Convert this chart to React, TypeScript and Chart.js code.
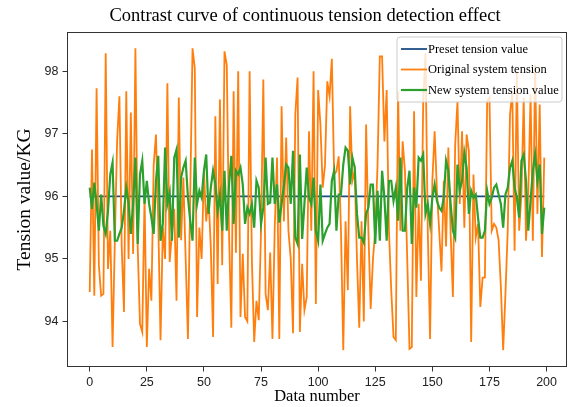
import React, { useEffect, useRef } from 'react';
import { Chart, registerables } from 'chart.js';

Chart.register(...registerables);

// ---------- data ----------
const dataNumbers: number[] = Array.from({ length: 200 }, (_, i) => i);

const presetTensionValue = 96;

const originalSystemTension: number[] = [
  94.47, 96.75, 94.41, 97.73, 94.9, 94.41, 94.44, 98.29, 94.84, 95.45,
  93.59, 95.3, 96.9, 97.6, 95.2, 94.15, 97.68, 95.0, 97.34, 95.08,
  98.37, 95.2, 93.96, 93.83, 96.0, 93.59, 94.84, 94.33, 96.5, 96.99,
  95.6, 93.7, 95.5, 95.0, 97.81, 94.95, 95.4, 95.8, 94.33, 97.58,
  95.3, 96.3, 95.0, 93.72, 96.0, 98.37, 98.05, 94.07, 95.5, 95.0,
  96.4, 95.6, 96.0, 95.2, 93.75, 97.28, 94.6, 97.55, 94.9, 98.32,
  98.1, 95.4, 93.9, 97.68, 95.1, 98.0, 94.07, 95.08, 94.07, 94.0,
  98.0, 94.97, 93.67, 94.33, 94.02, 95.45, 97.87, 94.44, 94.18, 95.1,
  93.72, 95.5, 96.62, 93.72, 97.44, 95.6, 96.94, 95.45, 95.0, 93.81,
  97.31, 97.9, 93.83, 94.92, 94.18, 94.39, 97.04, 95.45, 98.0, 94.28,
  97.7, 97.15, 96.14, 96.5, 97.84, 97.6, 98.2, 96.35, 96.4, 96.64,
  95.45, 93.54, 95.6, 94.5, 97.44, 96.25, 96.4, 95.0, 93.9, 95.6,
  94.0, 97.15, 95.45, 94.2, 95.0, 95.45, 96.5, 98.24, 98.24, 96.88,
  97.7, 95.45, 94.5, 93.75, 93.7, 97.68, 95.45, 96.88, 96.41, 95.0,
  93.56, 93.59, 97.36, 94.39, 95.88, 94.65, 97.52, 98.29, 95.45, 93.72,
  96.25, 97.04, 96.09, 95.45, 94.8, 96.25, 95.2, 96.78, 95.42, 94.39,
  96.83, 97.52, 95.88, 97.04, 95.5, 96.99, 96.73, 93.67, 96.35, 95.34,
  95.56, 94.23, 94.7, 94.7, 97.52, 97.58, 95.45, 95.56, 95.5, 95.3,
  94.55, 93.54, 94.44, 95.45, 97.31, 97.68, 95.13, 98.0, 95.45, 96.03,
  97.58, 95.29, 96.03, 97.63, 95.29, 98.1, 95.72, 97.47, 95.03, 96.62,
];

const newSystemTension: number[] = [
  96.14, 95.8, 96.22, 95.88, 95.45, 96.03, 95.53, 95.4, 95.77, 96.35,
  96.54, 95.29, 95.29, 95.4, 95.5, 95.77, 96.14, 95.9, 95.4, 95.88,
  96.62, 95.24, 96.35, 96.57, 95.88, 96.25, 95.88, 95.66, 95.4, 96.25,
  96.65, 95.29, 95.56, 96.78, 95.88, 96.06, 95.29, 96.62, 96.75, 95.34,
  96.3, 96.46, 96.57, 95.98, 95.61, 95.29, 96.62, 95.88, 96.09, 95.98,
  96.41, 96.67, 95.72, 96.14, 96.41, 96.19, 95.77, 96.03, 95.45, 96.41,
  95.45, 96.19, 96.65, 95.56, 96.41, 96.35, 96.46, 96.19, 95.56, 95.82,
  95.72, 95.88, 95.5, 96.25, 96.14, 95.56, 95.82, 96.62, 95.88, 95.9,
  96.62, 95.88, 96.19, 95.58, 95.88, 96.17, 96.51, 96.46, 95.88, 96.73,
  95.34, 95.24, 96.67, 95.32, 95.88, 96.46, 95.98, 95.88, 96.3, 95.45,
  95.29, 96.19, 95.29, 95.4, 95.5, 95.56, 96.25, 96.41, 95.45, 96.03,
  96.03, 96.51, 96.78, 96.73, 96.19, 96.62, 96.46, 95.72, 95.34, 95.34,
  95.26, 95.72, 95.82, 96.19, 96.19, 95.24, 96.09, 95.29, 96.41, 95.98,
  95.29, 96.25, 96.25, 95.93, 96.14, 95.61, 96.62, 95.45, 95.45, 96.14,
  96.41, 95.24, 96.14, 95.82, 96.62, 96.57, 96.67, 95.72, 95.88, 95.56,
  95.98, 96.19, 95.93, 95.82, 95.77, 95.98, 96.57, 96.41, 95.88, 95.45,
  95.34, 96.51, 96.09, 96.25, 96.7, 96.46, 95.72, 96.09, 95.98, 96.03,
  95.66, 95.34, 95.34, 95.45, 96.09, 95.88, 95.98, 96.14, 96.19, 96.03,
  95.88, 95.5, 96.03, 96.14, 96.46, 96.57, 96.14, 95.98, 95.66, 96.57,
  96.67, 96.25, 95.45, 95.93, 96.41, 96.67, 96.25, 96.51, 95.4, 95.82,
];

const xTickValues: number[] = [0, 25, 50, 75, 100, 125, 150, 175, 200];
const yTickValues: number[] = [94, 95, 96, 97, 98];

const seriesLabels: string[] = [
  'Preset tension value',
  'Original system tension',
  'New system tension value',
];

const chartTitle = 'Contrast curve of continuous tension detection effect';
const xAxisTitle = 'Data number';
const yAxisTitle = 'Tension value/KG';

// ---------- style ----------
const W = 572;
const H = 407;
const AREA_LEFT = 67;
const AREA_RIGHT = 567;
const AREA_BOTTOM = 367;
const PAD_LEFT = 43;
const SERIF = '"Liberation Serif", "Times New Roman", serif';
const SANS = '"Liberation Sans", Arial, sans-serif';
const COLORS = ['#1c4e85', '#ff7f0e', '#2ca02c'];
const WIDTHS = [1.8, 1.8, 2.2];
const FRAME = '#333333';

const framePlugin = {
  id: 'frameAndLegend',
  afterDatasetsDraw(chart: any) {
    const { ctx, chartArea: a } = chart;
    ctx.save();
    ctx.strokeStyle = FRAME;
    ctx.lineWidth = 1;
    const l = Math.round(a.left) + 0.5;
    const t = Math.round(a.top) + 0.5;
    const r = Math.round(a.right) - 0.5;
    const b = Math.round(a.bottom) - 0.5;
    ctx.strokeRect(l, t, r - l, b - t);
    ctx.restore();
  },
  afterDraw(chart: any) {
    const { ctx, chartArea: a } = chart;
    const bw = 165;
    const bh = 65;
    const bx = a.right - 5 - bw;
    const by = a.top + 5;
    ctx.save();
    ctx.beginPath();
    const rr = 3;
    ctx.moveTo(bx + rr, by);
    ctx.lineTo(bx + bw - rr, by);
    ctx.arcTo(bx + bw, by, bx + bw, by + rr, rr);
    ctx.lineTo(bx + bw, by + bh - rr);
    ctx.arcTo(bx + bw, by + bh, bx + bw - rr, by + bh, rr);
    ctx.lineTo(bx + rr, by + bh);
    ctx.arcTo(bx, by + bh, bx, by + bh - rr, rr);
    ctx.lineTo(bx, by + rr);
    ctx.arcTo(bx, by, bx + rr, by, rr);
    ctx.closePath();
    ctx.fillStyle = 'rgba(255,255,255,0.8)';
    ctx.fill();
    ctx.strokeStyle = '#cccccc';
    ctx.lineWidth = 1;
    ctx.stroke();
    const datasets = chart.data.datasets;
    const rowY = [by + 12, by + 32.5, by + 53];
    ctx.font = `12.5px ${SERIF}`;
    ctx.textBaseline = 'middle';
    ctx.textAlign = 'left';
    datasets.forEach((ds: any, i: number) => {
      const y = rowY[i];
      ctx.beginPath();
      ctx.strokeStyle = ds.borderColor;
      ctx.lineWidth = ds.borderWidth;
      ctx.moveTo(bx + 4, y);
      ctx.lineTo(bx + 30, y);
      ctx.stroke();
      ctx.fillStyle = '#000';
      ctx.fillText(ds.label, bx + 31, y + 0.5);
    });
    ctx.restore();
  },
};

export default function App() {
  const canvasRef = useRef<HTMLCanvasElement | null>(null);

  useEffect(() => {
    const canvas = canvasRef.current;
    if (!canvas) return;
    const seriesValues = [
      dataNumbers.map(() => presetTensionValue),
      originalSystemTension,
      newSystemTension,
    ];
    const chart = new Chart(canvas, {
      type: 'line',
      data: {
        datasets: seriesLabels.map((label, k) => ({
          label,
          data: dataNumbers.map((x, i) => ({ x, y: seriesValues[k][i] })),
          borderColor: COLORS[k],
          backgroundColor: COLORS[k],
          borderWidth: WIDTHS[k],
          pointRadius: 0,
          tension: 0,
          fill: false,
          order: 3 - k,
        })),
      },
      options: {
        responsive: false,
        animation: false,
        devicePixelRatio: 1,
        events: [],
        layout: { padding: { left: PAD_LEFT, right: W - AREA_RIGHT, top: 0, bottom: 0 } },
        plugins: {
          legend: { display: false },
          tooltip: { enabled: false },
          title: {
            display: true,
            text: chartTitle,
            color: '#000',
            font: { family: SERIF, size: 18.5, weight: 'normal', lineHeight: 1.2 },
            padding: { top: 5, bottom: 4.8 },
          },
        },
        scales: {
          x: {
            type: 'linear',
            min: -9.95,
            max: 208.95,
            afterBuildTicks: (s: any) => {
              s.ticks = xTickValues.map((v) => ({ value: v }));
            },
            afterFit: (s: any) => {
              s.height = H - AREA_BOTTOM;
            },
            grid: {
              display: true,
              drawOnChartArea: false,
              drawTicks: true,
              tickLength: 4.5,
              color: FRAME,
              tickColor: FRAME,
            },
            border: { display: false },
            ticks: {
              autoSkip: false,
              maxRotation: 0,
              padding: 5,
              color: '#222',
              font: { family: SANS, size: 12.5, lineHeight: 1 },
            },
            title: {
              display: true,
              text: xAxisTitle,
              color: '#000',
              font: { family: SERIF, size: 16.5, weight: 'normal', lineHeight: 1.2 },
              padding: { top: 0, bottom: 0 },
            },
          },
          y: {
            type: 'linear',
            min: 93.27,
            max: 98.63,
            afterBuildTicks: (s: any) => {
              s.ticks = yTickValues.map((v) => ({ value: v }));
            },
            afterFit: (s: any) => {
              s.width = AREA_LEFT - PAD_LEFT;
            },
            grid: {
              display: true,
              drawOnChartArea: false,
              drawTicks: true,
              tickLength: 4.5,
              color: FRAME,
              tickColor: FRAME,
            },
            border: { display: false },
            ticks: {
              padding: 4,
              color: '#222',
              font: { family: SANS, size: 12.5, lineHeight: 1 },
            },
            title: {
              display: true,
              text: yAxisTitle,
              color: '#000',
              font: { family: SERIF, size: 19.5, weight: 'normal', lineHeight: 1.2 },
              padding: { top: 25 - 11.7 - PAD_LEFT, bottom: 0 },
            },
          },
        },
      },
      plugins: [framePlugin],
    } as any);
    return () => {
      chart.destroy();
    };
  }, []);

  return (
    <div style={{ position: 'fixed', left: 0, top: 0, width: W, height: H, background: '#fff' }}>
      <canvas ref={canvasRef} width={W} height={H} style={{ display: 'block', width: W, height: H }} />
    </div>
  );
}
